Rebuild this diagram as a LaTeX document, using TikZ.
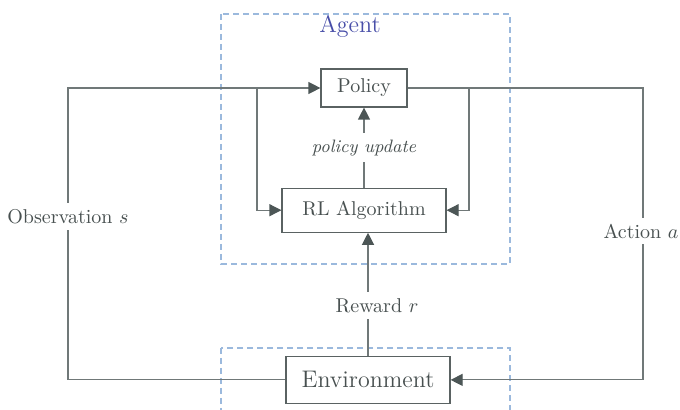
\documentclass[tikz,border=0pt]{standalone}
\usepackage{amsmath}
\usepackage{xcolor}
\usetikzlibrary{arrows.meta,positioning}

\definecolor{linegray}{RGB}{112,120,120}
\definecolor{tipgray}{RGB}{76,86,86}
\definecolor{boxgray}{RGB}{90,98,98}
\definecolor{textgray}{RGB}{72,80,80}
\definecolor{agentblue}{RGB}{72,78,168}
\definecolor{dashblue}{RGB}{155,185,221}

\begin{document}
\begin{tikzpicture}[x=0.5pt,y=-0.5pt,->,>={Triangle[length=6pt,width=6pt,color=tipgray]},
    flow/.style={draw=linegray, line width=0.6pt},
    blockbox/.style={rectangle, draw=boxgray, fill=white, line width=0.6pt, text=textgray},
    lbl/.style={fill=white, inner sep=3pt, text=textgray},
    dashbox/.style={-, draw=dashblue, line width=0.8pt, dash pattern=on 3pt off 2pt}]
  \useasboundingbox (0,0) rectangle (680,410);

  % agent and environment frames
  \draw[dashbox] (221,14) rectangle (510,264);
  \draw[dashbox] (221,348) rectangle (510,440);
  \node[text=agentblue, font=\large] (agent) at (350,26) {Agent};

  \node[blockbox, minimum width=43pt, minimum height=19pt] (policy) at (364,88) {Policy};
  \node[blockbox, minimum width=82pt, minimum height=22pt] (rlalgo) [below=40pt of policy] {RL Algorithm};
  \node[blockbox, minimum width=82pt, minimum height=23.5pt, font=\large] (env) [below=61.5pt of rlalgo, xshift=2pt] {Environment};

  \coordinate (obsTop) at (68,88);
  \coordinate (obsSplit) at (257,88);
  \coordinate (actTop) at (643,88);
  \coordinate (actSplit) at (469,88);

  % observation and action loops
  \draw[flow] (env.west) -| (obsTop) node[lbl, pos=0.78] {Observation $s$} -- (policy.west);
  \draw[flow] (obsSplit) |- (rlalgo.west);
  \draw[flow] (policy.east) -- (actTop) |- (env.east) node[lbl, pos=0.245, xshift=-1pt] {Action $a$};
  \draw[flow] (actSplit) |- (rlalgo.east);

  % updates
  \draw[flow] (rlalgo.north) -- (rlalgo.north |- policy.south) node[lbl, pos=0.5, font=\small\itshape] {policy update};
  \draw[flow] (env.north) -- (env.north |- rlalgo.south) node[lbl, pos=0.41, xshift=4.5pt] {Reward $r$};
\end{tikzpicture}
\end{document}
